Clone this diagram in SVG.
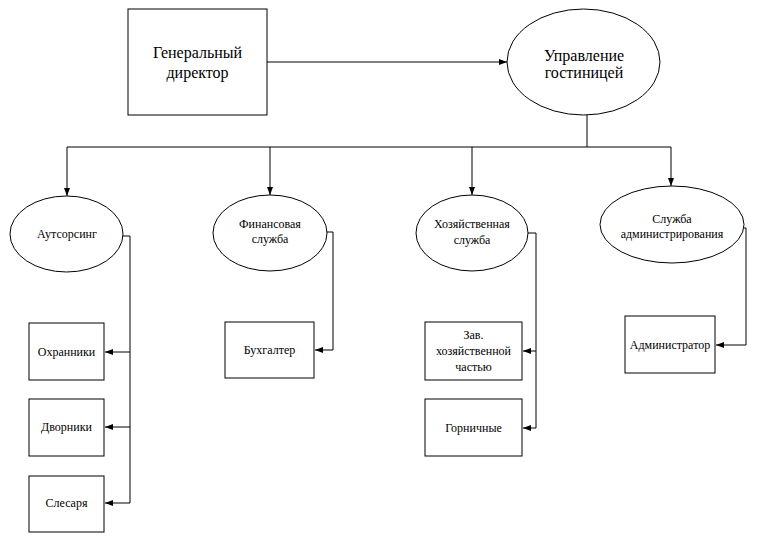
<svg xmlns="http://www.w3.org/2000/svg" width="761" height="540" viewBox="0 0 761 540">
  <style>
    .box { fill: #fff; stroke: #000; stroke-width: 1; }
    text { font-family: 'Liberation Serif', 'Times New Roman', serif; fill: #000; text-anchor: middle; }
    .big { font-size: 16px; }
    .sm { font-size: 12px; }
    .ln { fill: none; stroke: #000; stroke-width: 1; }
  </style>
  <defs>
    <marker id="ah" viewBox="0 0 8 6" refX="8" refY="3" markerWidth="8" markerHeight="6" markerUnits="userSpaceOnUse" orient="auto">
      <path d="M0,0 L8,3 L0,6 Z" fill="#000"/>
    </marker>
  </defs>
  <rect width="761" height="540" fill="#fff"/>

  <g id="connectors">
    <path class="ln" d="M267,62 H507" marker-end="url(#ah)"/>
    <path class="ln" d="M587,115 V147"/>
    <path class="ln" d="M67,147 H671"/>
    <path class="ln" d="M67,147 V196" marker-end="url(#ah)"/>
    <path class="ln" d="M270,147 V195" marker-end="url(#ah)"/>
    <path class="ln" d="M472,147 V195" marker-end="url(#ah)"/>
    <path class="ln" d="M671,147 V186" marker-end="url(#ah)"/>
    <path class="ln" d="M123,236 H130 V503"/>
    <path class="ln" d="M130,352 H105" marker-end="url(#ah)"/>
    <path class="ln" d="M130,427 H105" marker-end="url(#ah)"/>
    <path class="ln" d="M130,503 H105" marker-end="url(#ah)"/>
    <path class="ln" d="M327,232 H333 V350 H315" marker-end="url(#ah)"/>
    <path class="ln" d="M528,233 H536 V428"/>
    <path class="ln" d="M536,351 H523" marker-end="url(#ah)"/>
    <path class="ln" d="M536,428 H523" marker-end="url(#ah)"/>
    <path class="ln" d="M744,228 H746 V345 H716" marker-end="url(#ah)"/>
  </g>

  <g id="gen-director">
    <rect class="box" x="128" y="9" width="139" height="106"/>
    <text class="big" x="197.5" y="58">Генеральный</text>
    <text class="big" x="197.5" y="78">директор</text>
  </g>

  <g id="hotel-management">
    <ellipse class="box" cx="583.5" cy="62" rx="76.5" ry="53"/>
    <text class="big" x="584" y="61">Управление</text>
    <text class="big" x="584" y="78">гостиницей</text>
  </g>

  <g id="outsourcing">
    <ellipse class="box" cx="66.5" cy="234" rx="56.5" ry="38"/>
    <text class="sm" x="67" y="238">Аутсорсинг</text>
  </g>

  <g id="finance">
    <ellipse class="box" cx="270" cy="233" rx="57" ry="38"/>
    <text class="sm" x="270" y="228">Финансовая</text>
    <text class="sm" x="270" y="243">служба</text>
  </g>

  <g id="housekeeping">
    <ellipse class="box" cx="472" cy="233" rx="56" ry="38"/>
    <text class="sm" x="472" y="228">Хозяйственная</text>
    <text class="sm" x="472" y="244">служба</text>
  </g>

  <g id="administration">
    <ellipse class="box" cx="672" cy="224.5" rx="72" ry="38.5"/>
    <text class="sm" x="672" y="223">Служба</text>
    <text class="sm" x="672" y="238">администрирования</text>
  </g>

  <g id="guards">
    <rect class="box" x="29" y="323" width="75" height="57"/>
    <text class="sm" x="66.5" y="356">Охранники</text>
  </g>

  <g id="janitors">
    <rect class="box" x="29" y="399" width="75" height="57"/>
    <text class="sm" x="66.5" y="431">Дворники</text>
  </g>

  <g id="plumbers">
    <rect class="box" x="29" y="476" width="75" height="56"/>
    <text class="sm" x="66.5" y="507">Слесаря</text>
  </g>

  <g id="accountant">
    <rect class="box" x="225" y="322" width="89" height="56"/>
    <text class="sm" x="269.5" y="354">Бухгалтер</text>
  </g>

  <g id="housekeeping-head">
    <rect class="box" x="425" y="322" width="97" height="58"/>
    <text class="sm" x="473.5" y="339">Зав.</text>
    <text class="sm" x="473.5" y="355">хозяйственной</text>
    <text class="sm" x="473.5" y="371">частью</text>
  </g>

  <g id="maids">
    <rect class="box" x="425" y="399" width="97" height="57"/>
    <text class="sm" x="473.5" y="432">Горничные</text>
  </g>

  <g id="administrator">
    <rect class="box" x="625" y="316" width="90" height="57"/>
    <text class="sm" x="670" y="349">Администратор</text>
  </g>
</svg>
